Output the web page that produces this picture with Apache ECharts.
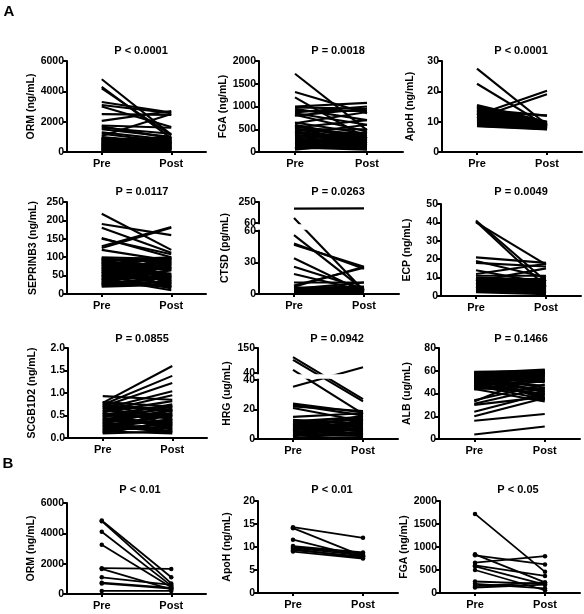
<!DOCTYPE html>
<html><head><meta charset="utf-8">
<script src="https://cdn.jsdelivr.net/npm/echarts@6/dist/echarts.min.js"></script>
<style>html,body{margin:0;padding:0;background:#fff}#c{width:584px;height:614px}</style>
</head><body><div id="c"></div>
<script>
const categories = ['Pre', 'Post'];

// Panel A – ORM
const ormPreA  = [4800,4300,4200,3300,3100,3000,2500,2050,1750,1700,1600,1500,1300,1200,1050,
  980,950,920,900,880,850,820,800,780,750,720,700,680,650,620,600,580,560,540,520,500,480,460,440,420,400,380,360,340,320,300,280,260,240,220,200,180,160,140,120,100,90,80,70,60];
const ormPostA = [1150,900,1100,2600,2550,1650,2450,2700,1600,900,1200,1000,800,650,2500,
  600,500,300,700,200,850,400,950,600,300,800,500,250,700,900,350,600,150,450,800,250,550,700,300,650,400,500,200,350,600,250,450,300,150,500,1000,200,750,100,400,850,300,550,150,650];
// Panel A – FGA
const fgaPreA  = [1720,1320,1200,1000,980,950,900,870,850,820,800,
  650,630,600,580,560,540,520,500,480,460,440,420,400,380,360,340,320,300,280,260,240,220,200,180,160,150,140,130,120,110,100,90,80,70,60,50];
const fgaPostA = [480,850,300,1080,950,700,900,1000,600,450,950,
  400,880,300,250,350,700,200,500,400,150,300,250,600,200,400,150,350,100,250,300,150,200,80,250,120,180,60,150,100,80,50,450,280,120,330,220];
// Panel A – ApoH
const apohPreA  = [27.5,22.5,15.5,15,14.8,14.5,14.2,14,13.8,13.5,13.2,13,12.8,12.5,12.2,12,11.8,11.5,11.2,11,10.8,10.5,10.2,10,9.8,9.5,9.2,9,8.8,8.5,
  15.2,14.6,13.6,12.6,11.4,10.6,9.6,9.1,8.7,8.6];
const apohPostA = [9,8.5,10,9.5,9.8,8.8,12,9.2,8.5,12,9,8,9.5,8.2,20.2,8.8,7.8,9.6,19,8,9.3,7.6,8.4,9,7.8,8.6,7.5,8.2,8,7.4,
  8.7,9.9,7.7,9.1,8.3,9.7,7.9,8.9,7.6,8.1];
// Panel A – SEPRINB3
const sepPre  = [218,190,180,152,150,130,125,120,100,98,96,94,92,90,88,85,82,80,78,75,72,70,68,65,62,60,58,55,52,50,48,45,42,40,38,35,32,30,28,25,22,20,
  97,93,87,83,77,73,67,63,57,53,47,43,37,33,27,24];
const sepPost = [120,160,112,100,108,182,180,90,95,70,85,50,100,40,75,30,95,55,20,85,66,45,90,35,80,25,70,100,15,55,85,40,10,75,50,30,66,20,45,80,35,25,
  45,92,28,70,98,18,88,50,72,38,97,64,82,22,48,35];
// Panel A – CTSD (broken axis)
const ctsdPre  = [190,105,56,48,47,34,26,19,11,8,7,6,6,5,5,4,4,3,3,2,2,1,1,0.5,6.5,5.5,4.5,3.5,2.5,1.5];
const ctsdPost = [192,3,4,24,26,2,5,3,11,25,26,7,2,4,11,3,1,5,2,3,6,1,4,2,1.5,6,3.5,5.5,0.5,4.5];
// Panel A – ECP
const ecpPre  = [41,40.5,40,21,19,18,14,12,11,10,9.5,9,8.5,8,7.5,7,6.5,6,5.5,5,4.5,4,3.5,3,2.5,2,
  9.8,9.2,8.8,8.2,7.8,7.2,6.8,6.2,5.8,5.2,4.8,4.2,3.8,3.2,2.8,2.2];
const ecpPost = [8,5,17,18,10,16,7,17.5,11,9,6,3,8,15,5,2,9,4,7,1.5,6,3,8,5,2,1,
  4,8.5,2.5,9.5,6.5,1.8,7.5,3.5,9.2,5.5,2.2,8.8,4.5,7,3,6];
// Panel A – SCGB1D2
const scgPre  = [0.93,0.80,0.78,0.76,0.74,0.72,0.70,0.68,0.65,0.62,0.60,0.58,0.55,0.52,0.50,0.48,0.45,0.42,0.40,0.38,0.35,0.32,0.30,0.28,0.25,0.22,0.20,0.18,0.15,0.12,0.10,
  0.79,0.71,0.66,0.57,0.53,0.47,0.43,0.37,0.33,0.27,0.23,0.17,0.14,0.11];
const scgPost = [0.85,0.70,1.60,0.40,1.38,0.60,1.22,0.30,1.04,0.50,0.95,0.82,0.20,0.72,0.45,0.65,0.25,0.55,0.70,0.35,0.15,0.62,0.40,0.12,0.50,0.30,0.22,0.55,0.10,0.35,0.15,
  0.58,0.28,0.68,0.18,0.48,0.75,0.33,0.62,0.14,0.52,0.42,0.26,0.64,0.38];
// Panel A – HRG (broken axis)
const hrgPre  = [110,98,54,35.5,24,23,22,21,15,13,12,11,10.5,10,9,8.5,8,7,6.5,6,5,4.5,4,3,2.5,2,1,
  12.5,11.5,9.5,7.5,5.5,3.5,1.5,0.5,11,8];
const hrgPost = [27,25.5,17,65,18,16,19,12,17.5,10,15,8,13,5,14,9,3,12,6,11,4,10,8,2,7,5,1,
  6,14.5,2.5,11.5,16,7.5,13.5,4.5,1.5,9.5];
// Panel A – ALB
const albPre  = [59,58.5,58,57,56.5,56,55,54.5,54,53,52,51.5,51,50,49,48,47,46,45,44,43.5,34,33,31,30,24,20,16,4,
  58.8,57.5,55.5,53.5,52.5,50.5,49.5,48.5,47.5,46.5,45.5,44.5];
const albPost = [60,57,61,55,59,52,60.5,45,58,50,56,42,59.5,47,38,55,35,40,60,33,51,48,58,45,37,40,36,22,11,
  34,53,41,58.5,36,54,44,59,39,52,57,43];
// Panel B
const ormPreB  = [4850,4800,4100,3250,1700,1650,1100,750,700,200];
const ormPostB = [1100,700,550,450,1650,300,600,400,350,200];
const apohPreB  = [14.3,14.1,11.6,10.2,10.0,9.8,9.6,9.3,9.0];
const apohPostB = [12.0,8.0,7.8,8.8,8.5,8.2,7.6,7.9,7.5];
const fgaPreB  = [1720,840,820,660,600,580,500,250,200,150,120];
const fgaPostB = [460,230,620,800,370,180,60,200,100,230,180];

const FONT = 'Arial, "Liberation Sans", Helvetica, sans-serif';
const grids = [], xAxes = [], yAxes = [], series = [], titles = [], graphics = [], breaks = [];

function labelStyle(extra) {
  return Object.assign({color: '#000', fontSize: 10.5, fontWeight: 'bold', fontFamily: FONT, margin: 3,
    formatter: v => String(v)}, extra || {});
}

function addCartesian(rect, yCfg) {
  const i = grids.length;
  grids.push({left: rect[0], top: rect[1], width: rect[2], height: rect[3], containLabel: false, outerBoundsMode: 'none'});
  xAxes.push({
    gridIndex: i, type: 'category', data: categories, boundaryGap: true,
    axisLine: {show: true, lineStyle: {color: '#000', width: 2}},
    axisTick: {show: true, alignWithLabel: true, length: 3, lineStyle: {color: '#000', width: 2}},
    axisLabel: {color: '#000', fontSize: 11, fontWeight: 'bold', fontFamily: FONT, margin: 6},
    splitLine: {show: false}
  });
  yAxes.push(Object.assign({
    gridIndex: i, type: 'value',
    axisLine: {show: true, lineStyle: {color: '#000', width: 2}},
    axisTick: {show: true, length: 4, lineStyle: {color: '#000', width: 2}},
    axisLabel: labelStyle(),
    splitLine: {show: false},
    nameLocation: 'middle',
    nameTextStyle: {color: '#000', fontSize: 10.5, fontWeight: 'bold', fontFamily: FONT}
  }, yCfg));
  return i;
}

function addLines(idx, pre, post, dots, map) {
  const f = map || (v => v);
  for (let k = 0; k < pre.length; k++) {
    series.push({
      type: 'line', xAxisIndex: idx, yAxisIndex: idx, data: [f(pre[k]), f(post[k])],
      symbol: dots ? 'circle' : 'none', symbolSize: 4.5, showSymbol: !!dots,
      lineStyle: {color: '#000', width: dots ? 1.8 : 2.1}, itemStyle: {color: '#000'},
      silent: true, animation: false, clip: true
    });
  }
}

function addTitle(text, x, y) {
  titles.push({text: text, left: x, top: y - 7, textAlign: 'center',
    textStyle: {color: '#000', fontSize: 11, fontWeight: 'bold', fontFamily: FONT}});
}

function addText(text, x, y, size) {
  graphics.push({type: 'text', x: x, y: y,
    style: {text: text, fill: '#000', fontSize: size, fontWeight: 'bold', fontFamily: FONT,
      align: 'center', verticalAlign: 'middle', textAlign: 'center', textVerticalAlign: 'middle'}});
}

function simplePanel(p) {
  const cfg = {min: p.min, max: p.max, interval: p.interval, name: p.name, nameGap: p.gap};
  if (p.fmt) cfg.axisLabel = labelStyle({formatter: p.fmt});
  const idx = addCartesian(p.rect, cfg);
  addLines(idx, p.pre, p.post, p.dots);
  addTitle(p.title, p.tx, p.ty);
}

// Broken axis: lower part [0, split] over loPx pixels, gap of gapPx, upper part [split, top] over upPx pixels.
function brokenPanel(p) {
  const map = v => v <= p.split ? v * p.loPx / p.split : p.loPx + p.gapPx + (v - p.split) * p.upPx / (p.top - p.split);
  const total = p.loPx + p.gapPx + p.upPx;
  const tickVals = p.loTicks.map(map).concat([p.loPx + p.gapPx, total]);
  const tickText = p.loTicks.map(String).concat([String(p.split), String(p.top)]);
  const idx = addCartesian(p.rect, {
    min: 0, max: total, name: p.name, nameGap: p.gap,
    axisLabel: labelStyle({customValues: tickVals, formatter: v => {
      let best = 0;
      for (let k = 0; k < tickVals.length; k++) if (Math.abs(tickVals[k] - v) < Math.abs(tickVals[best] - v)) best = k;
      return tickText[best];
    }}),
    axisTick: {show: true, length: 4, lineStyle: {color: '#000', width: 2}, customValues: tickVals}
  });
  addLines(idx, p.pre, p.post, false, map);
  addTitle(p.title, p.tx, p.ty);
  breaks.push({grid: idx, lo: p.loPx, hi: p.loPx + p.gapPx, rect: p.rect});
}

simplePanel({title: 'P < 0.0001', tx: 136, ty: 47, name: 'ORM (ng/mL)', gap: 30, rect: [67, 61, 139, 91], min: 0, max: 6000, interval: 2000, pre: ormPreA, post: ormPostA});
simplePanel({title: 'P = 0.0018', tx: 333, ty: 47, name: 'FGA (ng/mL)', gap: 29, rect: [259, 61, 144, 91], min: 0, max: 2000, interval: 500, pre: fgaPreA, post: fgaPostA});
simplePanel({title: 'P < 0.0001', tx: 516, ty: 47, name: 'ApoH (ng/mL)', gap: 26, rect: [442, 61, 140, 91], min: 0, max: 30, interval: 10, pre: apohPreA, post: apohPostA});

simplePanel({title: 'P = 0.0117', tx: 137, ty: 188, name: 'SEPRINB3 (ng/mL)', gap: 28, rect: [67, 202, 139, 92], min: 0, max: 250, interval: 50, pre: sepPre, post: sepPost});
brokenPanel({title: 'P = 0.0263', tx: 333, ty: 188, name: 'CTSD (pg/mL)', gap: 28,
  rect: [259, 202, 140, 92], split: 60, top: 250, loPx: 63, gapPx: 8, upPx: 21, loTicks: [0, 30, 60], pre: ctsdPre, post: ctsdPost});
simplePanel({title: 'P = 0.0049', tx: 516, ty: 188, name: 'ECP (ng/mL)', gap: 28, rect: [441, 204, 140, 92], min: 0, max: 50, interval: 10, pre: ecpPre, post: ecpPost});

simplePanel({title: 'P = 0.0855', tx: 137, ty: 335, name: 'SCGB1D2 (ng/mL)', gap: 30, rect: [68, 348, 139, 90], min: 0, max: 2, interval: 0.5, fmt: v => v.toFixed(1), pre: scgPre, post: scgPost});
brokenPanel({title: 'P = 0.0942', tx: 332, ty: 335, name: 'HRG (ug/mL)', gap: 25,
  rect: [258, 348, 140, 91], split: 40, top: 150, loPx: 59, gapPx: 7, upPx: 25, loTicks: [0, 20, 40], pre: hrgPre, post: hrgPost});
simplePanel({title: 'P = 0.1466', tx: 516, ty: 335, name: 'ALB (ug/mL)', gap: 26, rect: [439, 348, 141, 91], min: 0, max: 80, interval: 20, pre: albPre, post: albPost});

simplePanel({title: 'P < 0.01', tx: 135, ty: 486, name: 'ORM (ng/mL)', gap: 30, rect: [67, 503, 139, 91], min: 0, max: 6000, interval: 2000, pre: ormPreB, post: ormPostB, dots: true});
simplePanel({title: 'P < 0.01', tx: 327, ty: 486, name: 'ApoH (ng/mL)', gap: 25, rect: [258, 501, 140, 92], min: 0, max: 20, interval: 5, pre: apohPreB, post: apohPostB, dots: true});
simplePanel({title: 'P < 0.05', tx: 513, ty: 486, name: 'FGA (ng/mL)', gap: 28, rect: [440, 501, 140, 92], min: 0, max: 2000, interval: 500, pre: fgaPreB, post: fgaPostB, dots: true});

addText('A', 9, 12, 15);
addText('B', 8, 464, 15);

const chart = echarts.init(document.getElementById('c'), null, {renderer: 'canvas'});
chart.setOption({
  backgroundColor: '#fff',
  animation: false,
  title: titles,
  grid: grids,
  xAxis: xAxes,
  yAxis: yAxes,
  series: series,
  graphic: graphics
});

// White gap of the broken axes, placed through the axis scale
breaks.forEach(b => {
  const yLo = chart.convertToPixel({gridIndex: b.grid}, [0, b.lo])[1];
  const yHi = chart.convertToPixel({gridIndex: b.grid}, [0, b.hi])[1];
  graphics.push({type: 'rect', z: 100, silent: true,
    shape: {x: b.rect[0] - 2, y: yHi + 1.2, width: b.rect[2] + 4, height: (yLo - yHi) - 2.4},
    style: {fill: '#fff'}});
});
chart.setOption({graphic: graphics});
</script>
</body></html>
